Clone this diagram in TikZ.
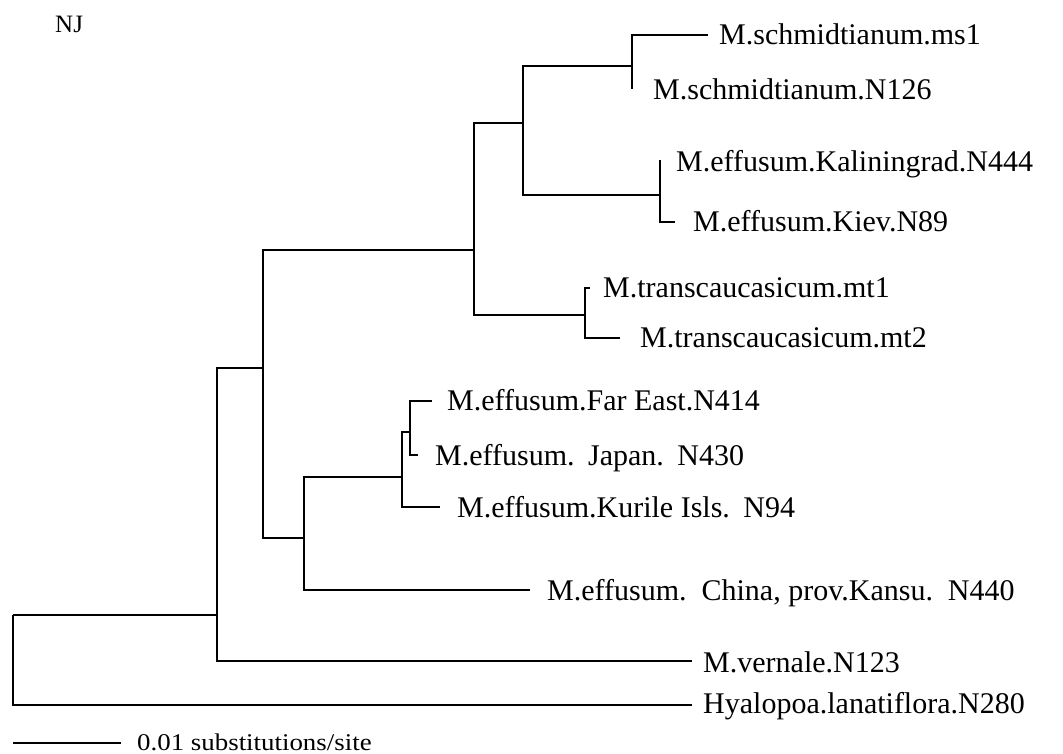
\documentclass[tikz,border=0pt]{standalone}
\usepackage{fontspec}
\setmainfont{Liberation Serif}
\newcommand\labfont{\fontsize{30}{32}\selectfont}
\tikzset{
  branch/.style={line width=2pt, black},
  leaf/.style={anchor=base west, inner sep=0pt, font=\labfont},
}
\begin{document}
\begin{tikzpicture}[x=1pt, y=-1pt]
\fill[white] (0,0) rectangle (1063,754);
\useasboundingbox (0,0) rectangle (1063,754);
% internal nodes (x, attach y)
\coordinate (R) at (13,615);
\coordinate (A) at (217,615);
\coordinate (B) at (263,368);
\coordinate (C) at (474,250);
\coordinate (D) at (523,123);
\coordinate (E) at (632,66);
\coordinate (F) at (660,195);
\coordinate (G) at (585,315);
\coordinate (H) at (304,538);
\coordinate (I) at (402,477);
\coordinate (J) at (410,432);
% leaf tips
\coordinate (tms1) at (708,35);
\coordinate (tn126) at (632,89);
\coordinate (tkal) at (660,160);
\coordinate (tkiev) at (675,222);
\coordinate (tmt1) at (590,288);
\coordinate (tmt2) at (620,338);
\coordinate (tfar) at (432,401);
\coordinate (tjap) at (418,455);
\coordinate (tkur) at (440,507);
\coordinate (tchi) at (530,590);
\coordinate (tver) at (692,661);
\coordinate (thya) at (692,705);
% branches
\draw[branch] (R) -- (A);
\draw[branch] (R) |- (thya);
\draw[branch] (A) |- (B);
\draw[branch] (A) |- (tver);
\draw[branch] (B) |- (C);
\draw[branch] (B) |- (H);
\draw[branch] (C) |- (D);
\draw[branch] (C) |- (G);
\draw[branch] (D) |- (E);
\draw[branch] (D) |- (F);
\draw[branch] (E) |- (tms1);
\draw[branch] (E) |- (tn126);
\draw[branch] (F) |- (tkal);
\draw[branch] (F) |- (tkiev);
\draw[branch] (G) |- (tmt1);
\draw[branch] (G) |- (tmt2);
\draw[branch] (H) |- (I);
\draw[branch] (H) |- (tchi);
\draw[branch] (I) |- (J);
\draw[branch] (I) |- (tkur);
\draw[branch] (J) |- (tfar);
\draw[branch] (J) |- (tjap);
% labels
\node[leaf] (lms1) at (719,45) {M.schmidtianum.ms1};
\node[leaf] (ln126) at (653,100) {M.schmidtianum.N126};
\node[leaf] (lkal) at (676,172) {M.effusum.Kaliningrad.N444};
\node[leaf] (lkiev) at (693,232) {M.effusum.Kiev.N89};
\node[leaf] (lmt1) at (603,297) {M.transcaucasicum.mt1};
\node[leaf] (lmt2) at (640,347) {M.transcaucasicum.mt2};
\node[leaf] (lfar) at (447,410) {M.effusum.Far East.N414};
\node[leaf] (ljap) at (435,465) {M.effusum.\hspace{0.45em}Japan.\hspace{0.45em}N430};
\node[leaf] (lkur) at (457,517) {M.effusum.Kurile Isls.\hspace{0.45em}N94};
\node[leaf] (lchi) at (547,600) {M.effusum.\hspace{0.5em}China, prov.Kansu.\hspace{0.5em}N440};
\node[leaf] (lver) at (703,672) {M.vernale.N123};
\node[leaf] (lhya) at (703,713) {Hyalopoa.lanatiflora.N280};
\node[leaf, font=\fontsize{25}{27}\selectfont] (nj) at (55,33) {NJ};
% scale bar
\coordinate (s0) at (13,743);
\coordinate (s1) at (121,743);
\draw[branch] (s0) -- (s1);
\node[leaf, font=\fontsize{24}{26}\selectfont] (lscale) at (137,750) {\scalebox{1.12}[1]{0.01 substitutions/site}};
\end{tikzpicture}
\end{document}
